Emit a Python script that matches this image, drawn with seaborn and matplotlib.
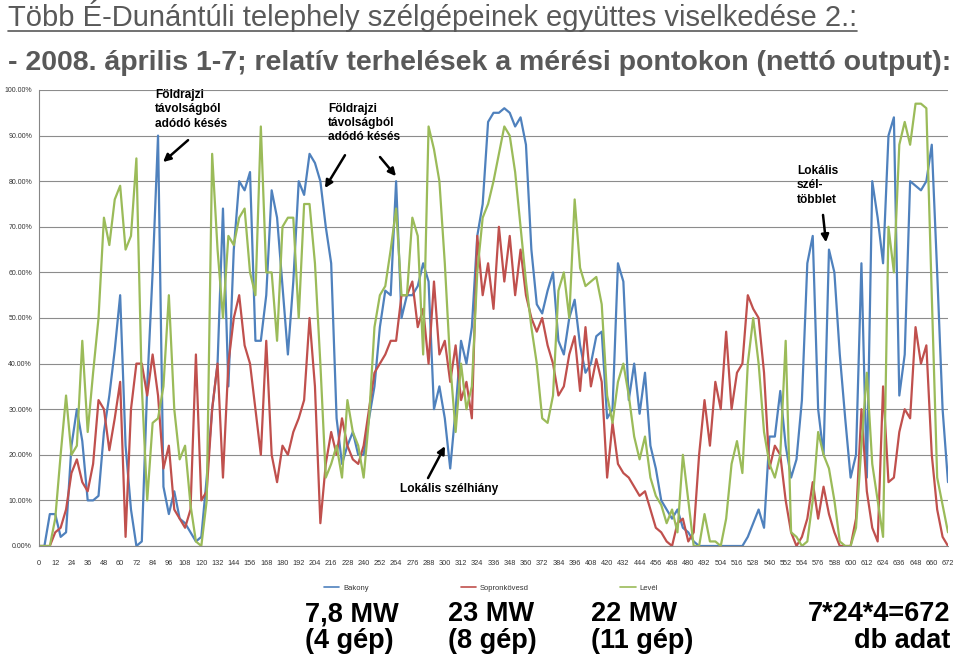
import matplotlib
matplotlib.use("Agg")
import matplotlib.pyplot as plt
from matplotlib.lines import Line2D
import numpy as np
import pandas as pd
import seaborn as sns

# ---------------- data (relative load in %, one value every 4 quarter-hours) ----------------
quarter_hours = list(range(0, 673, 4))

bakony = [0, 0, 7, 7, 2, 3, 22, 30, 23, 10,
          10, 11, 25, 33, 43, 55, 22, 8, 0, 1,
          35, 60, 90, 13, 7, 12, 6, 5, 3, 1,
          2, 15, 30, 40, 74, 35, 65, 80, 78, 82,
          45, 45, 55, 78, 72, 57, 42, 58, 80, 77,
          86, 84, 80, 70, 62, 28, 18, 22, 25, 20,
          20, 28, 35, 48, 56, 55, 80, 50, 55, 55,
          57, 62, 58, 30, 35, 28, 17, 30, 45, 40,
          48, 68, 75, 93, 95, 95, 96, 95, 92, 94,
          88, 65, 53, 51, 56, 60, 45, 42, 50, 54,
          44, 38, 40, 46, 47, 28, 30, 62, 58, 32,
          40, 29, 38, 22, 17, 10, 8, 6, 8, 4,
          3, 1, 0, 0, 0, 0, 0, 0, 0, 0,
          0, 2, 5, 8, 4, 24, 24, 34, 22, 15,
          19, 32, 62, 68, 30, 20, 65, 60, 42, 28,
          15, 20, 62, 15, 80, 72, 62, 90, 94, 33,
          42, 80, 79, 78, 80, 88, 60, 30, 14]

sopronkovesd = [0, 0, 0, 3, 4, 8, 16, 19, 14, 12,
                18, 32, 30, 21, 28, 36, 2, 30, 40, 40,
                33, 42, 33, 17, 22, 8, 6, 4, 8, 42,
                10, 12, 30, 40, 15, 40, 50, 55, 44, 40,
                30, 20, 45, 20, 14, 22, 20, 25, 28, 32,
                50, 35, 5, 18, 25, 20, 28, 22, 19, 18,
                22, 30, 38, 40, 42, 45, 45, 55, 55, 58,
                48, 52, 40, 58, 42, 45, 36, 44, 32, 36,
                28, 68, 55, 62, 52, 70, 58, 68, 55, 65,
                55, 50, 47, 50, 44, 40, 33, 35, 42, 46,
                34, 48, 35, 41, 36, 15, 27, 18, 16, 15,
                13, 11, 12, 8, 4, 3, 1, 0, 5, 6,
                1, 3, 20, 32, 22, 36, 30, 47, 30, 38,
                40, 55, 52, 50, 38, 17, 22, 20, 10, 3,
                0, 2, 6, 14, 6, 13, 7, 3, 0, 0,
                0, 6, 30, 12, 4, 1, 35, 14, 15, 25,
                30, 28, 48, 40, 44, 20, 8, 2, 0]

level = [0, 0, 0, 6, 20, 33, 20, 22, 45, 25,
         38, 50, 72, 66, 76, 79, 65, 68, 85, 35,
         10, 27, 28, 35, 55, 30, 19, 22, 9, 1,
         0, 10, 86, 65, 50, 68, 66, 72, 74, 60,
         55, 92, 60, 60, 45, 70, 72, 72, 50, 75,
         75, 62, 40, 15, 18, 22, 15, 32, 25, 22,
         15, 28, 48, 55, 57, 65, 74, 55, 55, 72,
         68, 42, 92, 87, 80, 62, 40, 25, 40, 30,
         35, 60, 72, 75, 80, 86, 92, 90, 82, 70,
         58, 48, 40, 28, 27, 33, 56, 60, 50, 76,
         61, 57, 58, 59, 53, 33, 27, 36, 40, 33,
         24, 19, 24, 15, 11, 9, 5, 8, 3, 20,
         10, 0, 0, 7, 1, 1, 0, 6, 18, 23,
         16, 40, 50, 40, 25, 18, 15, 20, 45, 3,
         2, 0, 1, 10, 25, 20, 17, 10, 1, 0,
         0, 4, 22, 38, 18, 10, 2, 70, 60, 88,
         93, 88, 97, 97, 96, 55, 15, 9, 3]

series_names = ["Bakony", "Sopronkövesd", "Levél"]
series_colors = ["#4F81BD", "#C0504D", "#9BBB59"]
x_tick_values = list(range(0, 673, 12))
y_tick_values = list(range(0, 101, 10))

title_line1 = "Több É-Dunántúli telephely szélgépeinek együttes viselkedése 2.:"
title_line2 = "- 2008. április 1-7; relatív terhelések a mérési pontokon (nettó output):"
capacity_labels = [("7,8 MW", "(4 gép)"), ("23 MW", "(8 gép)"), ("22 MW", "(11 gép)")]
count_label = ("7*24*4=672", "db adat")

df = pd.DataFrame({
    "t": quarter_hours * 3,
    "v": bakony + sopronkovesd + level,
    "s": [n for n in series_names for _ in quarter_hours],
})

# ---------------- style ----------------
sns.set_style("white")
plt.rcParams["font.family"] = ["Liberation Sans", "DejaVu Sans"]

W, H = 960, 655
fig = plt.figure(figsize=(W / 100, H / 100), dpi=100)
ax = fig.add_axes([39 / W, 1 - 546 / H, (948 - 39) / W, (546 - 90) / H])

sns.lineplot(data=df, x="t", y="v", hue="s", hue_order=series_names,
             palette=dict(zip(series_names, series_colors)), ax=ax,
             linewidth=1.6, legend=False, estimator=None)

ax.set_xlim(0, 672)
ax.set_ylim(0, 100)
ax.set_xticks(x_tick_values)
ax.set_xticklabels([str(v) for v in x_tick_values], fontsize=5.3, color="#333333")
ax.set_yticks(y_tick_values)
ax.set_yticklabels([f"{v:.2f}%" for v in y_tick_values], fontsize=5.0, color="#333333")
ax.set_xlabel("")
ax.set_ylabel("")
ax.yaxis.grid(True, color="#8c8c8c", linewidth=0.8)
ax.xaxis.grid(False)
ax.set_axisbelow(True)
for s in ["top", "right"]:
    ax.spines[s].set_visible(False)
for s in ["left", "bottom"]:
    ax.spines[s].set_color("#868686")
    ax.spines[s].set_linewidth(0.8)
ax.tick_params(axis="x", length=3, width=0.6, color="#868686", pad=7)
ax.tick_params(axis="y", length=3, width=0.6, color="#868686", pad=2)

# ---------------- annotations ----------------
ann_kw = dict(fontsize=8.6, fontweight="bold", color="black", linespacing=1.25)
arrow_kw = dict(arrowstyle="-|>", color="black", lw=1.8, mutation_scale=11, shrinkA=0, shrinkB=0)

ax.text(85.8, 100.2, "Földrajzi\ntávolságból\nadódó késés", ha="left", va="top", **ann_kw)
ax.annotate("", xy=(91.7, 84.2), xytext=(110.2, 89.0), arrowprops=arrow_kw)

ax.text(213.6, 97.2, "Földrajzi\ntávolságból\nadódó késés", ha="left", va="top", **ann_kw)
ax.annotate("", xy=(211.4, 78.5), xytext=(226.2, 85.7), arrowprops=arrow_kw)
ax.annotate("", xy=(263.9, 81.1), xytext=(252.1, 85.3), arrowprops=arrow_kw)

ax.text(266.9, 12.4, "Lokális szélhiány", ha="left", va="center", **ann_kw)
ax.annotate("", xy=(300.1, 21.9), xytext=(287.6, 14.9), arrowprops=arrow_kw)

ax.text(560.4, 83.5, "Lokális\nszél-\ntöbblet", ha="left", va="top", **ann_kw)
ax.annotate("", xy=(581.8, 66.6), xytext=(579.6, 72.6), arrowprops=arrow_kw)

# ---------------- legend ----------------
handles = [Line2D([0], [0], color=c, lw=1.2) for c in series_colors]
fig.legend(handles, series_names, loc="center", bbox_to_anchor=(491 / W, 1 - 588 / H),
           ncol=3, frameon=False, fontsize=5.5, handlelength=2.0, handletextpad=0.5,
           columnspacing=12.0, labelcolor="#333333")

# ---------------- titles ----------------
t1 = fig.text(8 / W, 1 - 26 / H, title_line1, fontsize=21, color="#595959",
              ha="left", va="baseline")
t2 = fig.text(8 / W, 1 - 70 / H, title_line2, fontsize=20.5, color="#595959",
              fontweight="bold", ha="left", va="baseline")

# ---------------- bottom big labels ----------------
big_kw = dict(fontsize=19.5, fontweight="bold", color="black", va="baseline")
for (l1, l2), xpx in zip(capacity_labels, [305, 448, 591]):
    fig.text(xpx / W, 1 - 621 / H, l1, ha="left", **big_kw)
    fig.text(xpx / W, 1 - 648 / H, l2, ha="left", **big_kw)
fig.text(950 / W, 1 - 621 / H, count_label[0], ha="right", **big_kw)
fig.text(950 / W, 1 - 648 / H, count_label[1], ha="right", **big_kw)

# underline of first title line
fig.canvas.draw()
bb = t1.get_window_extent()
uy = (H - 31) / H
fig.add_artist(Line2D([bb.x0 / W, bb.x1 / W], [uy, uy], transform=fig.transFigure,
                      color="#595959", lw=1.2))

fig.savefig("out.png", dpi=100)
